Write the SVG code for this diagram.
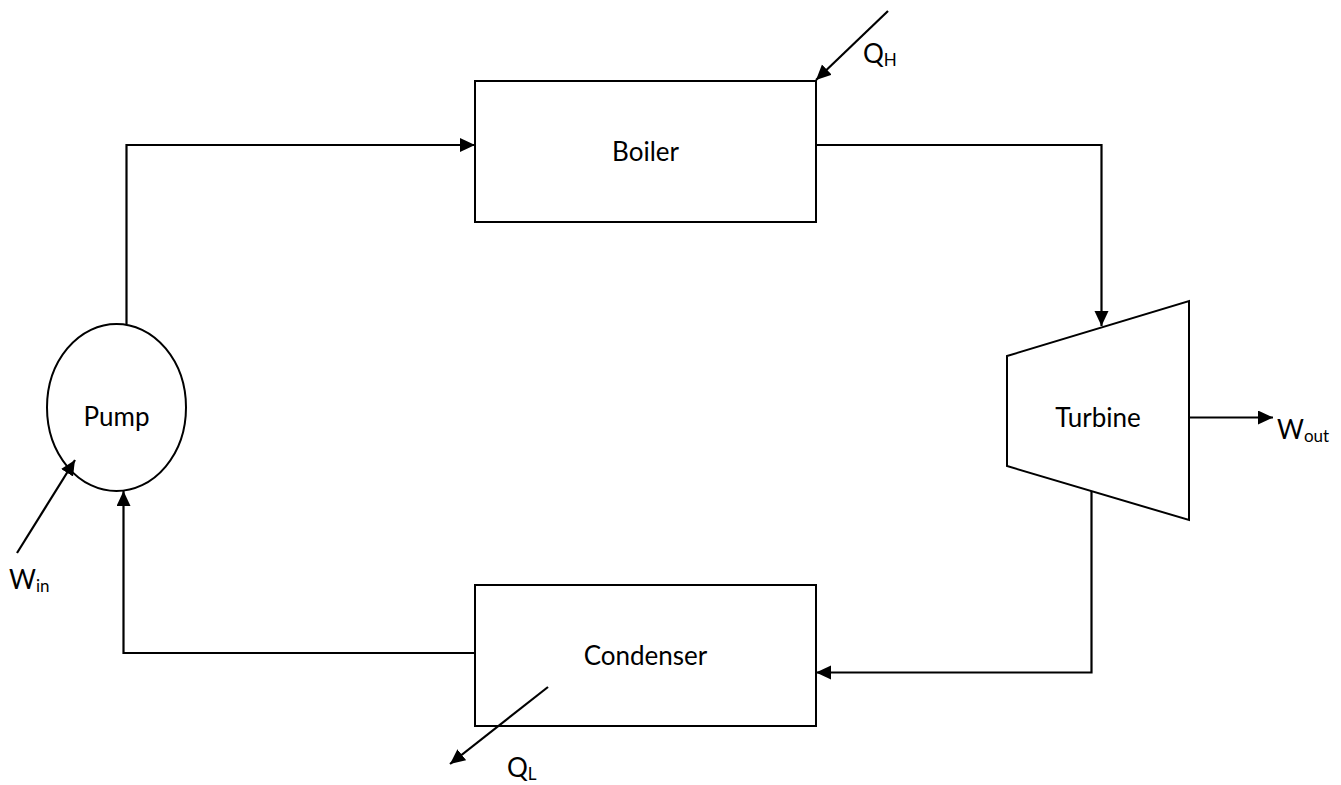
<svg xmlns="http://www.w3.org/2000/svg" width="1341" height="785" viewBox="0 0 1341 785">
<style>
.box{fill:#fff;stroke:#000;stroke-width:2}
.ln{fill:none;stroke:#000;stroke-width:2.2}
.t{font-family:Lato,"Open Sans","Liberation Sans",sans-serif;font-size:26px;fill:#000}
.s{font-size:17px}
</style>
<defs>
<marker id="ah" markerUnits="userSpaceOnUse" markerWidth="16" markerHeight="16" refX="15" refY="7" orient="auto">
<path d="M0,0 L15,7 L0,14 z" fill="#000"/>
</marker>
</defs>
<rect width="1341" height="785" fill="#fff"/>
<g id="boiler">
<rect class="box" x="475" y="81" width="341" height="141"/>
<text class="t" x="645.5" y="161" text-anchor="middle">Boiler</text>
</g>
<g id="condenser">
<rect class="box" x="475" y="585" width="341" height="141"/>
<text class="t" x="645.5" y="665" text-anchor="middle">Condenser</text>
</g>
<g id="pump">
<ellipse class="box" cx="116.5" cy="407.5" rx="69.5" ry="83.5"/>
<text class="t" x="116.5" y="426" text-anchor="middle">Pump</text>
</g>
<g id="turbine">
<polygon class="box" points="1007,356 1189,301 1189,520 1007,466"/>
<text class="t" x="1098" y="427" text-anchor="middle">Turbine</text>
</g>
<g id="connectors">
<polyline class="ln" points="126.5,324 126.5,145 475,145" marker-end="url(#ah)"/>
<polyline class="ln" points="816,145 1101.5,145 1101.5,326" marker-end="url(#ah)"/>
<polyline class="ln" points="1091.5,491 1091.5,672.5 816,672.5" marker-end="url(#ah)"/>
<polyline class="ln" points="475,653 123.5,653 123.5,491" marker-end="url(#ah)"/>
<line class="ln" x1="1189" y1="417.5" x2="1273" y2="417.5" marker-end="url(#ah)"/>
<line class="ln" x1="888" y1="11" x2="816" y2="80" marker-end="url(#ah)"/>
<line class="ln" x1="548" y1="687" x2="450" y2="764" marker-end="url(#ah)"/>
<line class="ln" x1="17" y1="553" x2="75" y2="460" marker-end="url(#ah)"/>
</g>
<g id="labels">
<text class="t" x="863" y="63">Q<tspan class="s" dy="3">H</tspan></text>
<text class="t" x="507" y="777">Q<tspan class="s" dy="3">L</tspan></text>
<text class="t" x="9" y="589">W<tspan class="s" dy="3">in</tspan></text>
<text class="t" x="1277" y="439">W<tspan class="s" dy="3">out</tspan></text>
</g>
</svg>
